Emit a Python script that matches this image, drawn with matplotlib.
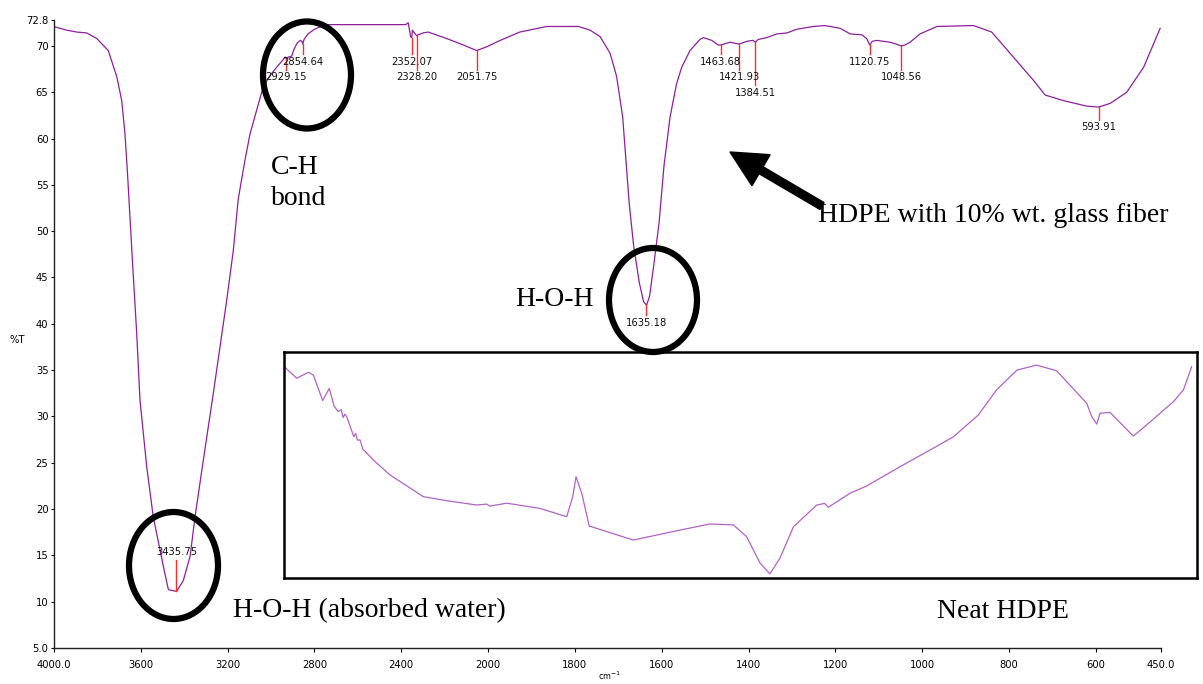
import matplotlib
matplotlib.use('Agg')
import matplotlib.pyplot as plt
from matplotlib.patches import Ellipse, FancyArrow
import numpy as np

# HDPE + 10% glass fiber spectrum (wavenumber, %T)
wavenumber = [3995, 3941, 3895, 3849, 3803, 3750, 3711, 3688, 3673, 3662, 3650, 3637,
              3619, 3604, 3573, 3543, 3496, 3473, 3435, 3404, 3373, 3350, 3312, 3266,
              3204, 3174, 3151, 3120, 3097, 3066, 3036, 3005, 2974, 2945, 2935, 2929,
              2920, 2905, 2895, 2880, 2865, 2858, 2854, 2848, 2830, 2800, 2770, 2740,
              2600, 2380, 2368, 2357, 2352, 2349, 2340, 2329, 2322, 2300, 2276, 2191,
              2114, 2053, 2007, 1972, 1927, 1865, 1792, 1765, 1742, 1719, 1704, 1690,
              1675, 1665, 1652, 1642, 1635, 1628, 1618, 1606, 1595, 1581, 1566, 1554,
              1535, 1512, 1504, 1485, 1470, 1464, 1443, 1422, 1404, 1390, 1384, 1378,
              1358, 1335, 1312, 1289, 1251, 1224, 1189, 1166, 1139, 1128, 1121, 1115,
              1105, 1074, 1060, 1049, 1040, 1028, 1005, 966, 882, 840, 790, 744,
              717, 675, 621, 594, 567, 529, 490, 452]
transmittance = [72.05, 71.7, 71.5, 71.4, 70.8, 69.5, 66.7, 64.1, 60.5, 56.5, 51.5, 46.1,
                 39.0, 31.8, 24.6, 19.2, 13.8, 11.3, 11.1, 12.3, 14.9, 19.2, 25.3, 32.5,
                 42.6, 47.9, 53.5, 57.7, 60.5, 63.1, 65.6, 66.8, 67.7, 68.5, 68.8, 68.6,
                 68.8, 68.9, 69.6, 70.3, 70.6, 70.5, 70.2, 70.7, 71.3, 71.8, 72.1, 72.3,
                 72.3, 72.3, 72.5, 71.0, 70.9, 71.7, 71.4, 71.1, 71.2, 71.4, 71.5, 70.8,
                 70.1, 69.5, 69.9, 70.6, 71.5, 72.1, 72.1, 71.7, 71.0, 69.2, 66.7, 62.3,
                 53.0, 48.5, 44.5, 42.4, 42.0, 43.0, 46.5, 51.0, 57.0, 62.3, 65.9, 67.7,
                 69.5, 70.7, 70.9, 70.6, 70.1, 70.1, 70.4, 70.2, 70.5, 70.6, 70.4, 70.7,
                 70.9, 71.3, 71.4, 71.8, 72.1, 72.2, 71.9, 71.3, 71.2, 70.8, 70.1, 70.5,
                 70.6, 70.4, 70.2, 70.0, 70.1, 70.4, 71.3, 72.1, 72.2, 71.5, 68.8, 66.3,
                 64.7, 64.1, 63.5, 63.4, 63.8, 65.0, 67.7, 71.9]

# Neat HDPE spectrum (inset, relative scale)
neat_wavenumber = [3994, 3929, 3864, 3836, 3784, 3747, 3720, 3697, 3680, 3670, 3660, 3650,
                   3630, 3610, 3600, 3590, 3575, 3560, 3540, 3501, 3408, 3222, 3091, 2924,
                   2868, 2850, 2756, 2570, 2421, 2387, 2369, 2337, 2295, 2049, 1894, 1810,
                   1745, 1708, 1670, 1643, 1615, 1577, 1512, 1490, 1480, 1419, 1373, 1280,
                   1196, 1130, 1061, 1010, 953, 898, 842, 758, 744, 730, 721, 693,
                   628, 591, 516, 488, 465]
neat_signal = [93.2, 88.4, 91.0, 89.8, 78.5, 83.9, 76.0, 73.6, 74.5, 71.0, 72.5, 71.4,
               67.0, 62.5, 64.0, 61.0, 61.1, 57.0, 55.5, 52.2, 45.6, 36.0, 34.2, 32.3,
               32.7, 31.8, 33.1, 30.8, 27.1, 36.0, 44.8, 37.5, 23.0, 16.8, 21.2, 23.9,
               23.5, 18.3, 6.5, 1.8, 8.7, 22.7, 32.3, 33.0, 31.3, 37.5, 40.7, 49.2,
               56.6, 62.5, 72.1, 83.2, 92.0, 94.2, 91.7, 77.3, 71.4, 68.1, 72.9, 73.3,
               62.8, 67.7, 78.0, 83.2, 93.5]

peak_positions = [3435.75, 2929.15, 2854.64, 2352.07, 2328.20, 2051.75, 1635.18,
                  1463.68, 1421.93, 1384.51, 1120.75, 1048.56, 593.91]

x_ticks = [4000, 3600, 3200, 2800, 2400, 2000, 1800, 1600, 1400, 1200, 1000, 800, 600, 450]
x_tick_labels = ['4000.0', '3600', '3200', '2800', '2400', '2000', '1800', '1600',
                 '1400', '1200', '1000', '800', '600', '450.0']
y_ticks = [72.8, 70, 65, 60, 55, 50, 45, 40, 35, 30, 25, 20, 15, 10, 5]
y_tick_labels = ['72.8', '70', '65', '60', '55', '50', '45', '40', '35', '30', '25',
                 '20', '15', '10', '5.0']

# where each peak label sits (in %T)
label_levels = [15.4, 66.6, 68.3, 68.3, 66.6, 66.6, 40.1, 68.3, 66.6, 64.9, 68.3, 66.6, 61.2]

W, H = 1203, 684
narrow = ['DejaVu Sans']
serif = ['Liberation Serif', 'DejaVu Serif']
line_color = '#8e1f9e'
small_font = dict(family=narrow, stretch='condensed', size=8)


# spectrometer style: scale doubles below 2000 cm-1
def fwd(x):
    x = np.asarray(x, dtype=float)
    return np.where(x >= 2000, x, 2 * x - 2000)


def inv(u):
    u = np.asarray(u, dtype=float)
    return np.where(u >= 2000, u, (u + 2000) / 2)


fig = plt.figure(figsize=(W / 100, H / 100), dpi=100)
fig.patch.set_facecolor('white')

ax = fig.add_axes([54 / W, 36 / H, 1107 / W, 628 / H])
ax.set_xscale('function', functions=(fwd, inv))
ax.plot(wavenumber, transmittance, color=line_color, lw=0.9)
ax.set_xlim(4000, 450)
ax.set_ylim(5, 72.8)
ax.set_xticks(x_ticks)
ax.set_xticklabels(x_tick_labels)
ax.set_yticks(y_ticks)
ax.set_yticklabels(y_tick_labels)
ax.xaxis.set_minor_locator(matplotlib.ticker.NullLocator())
ax.tick_params(axis='x', direction='out', length=3, width=0.8, pad=6)
ax.tick_params(axis='y', direction='out', length=2, width=0.8, pad=2)
for lab in ax.get_xticklabels() + ax.get_yticklabels():
    lab.set_fontproperties(matplotlib.font_manager.FontProperties(**small_font))
for s in ['top', 'right']:
    ax.spines[s].set_visible(False)
for s in ['left', 'bottom']:
    ax.spines[s].set_linewidth(1.0)
    ax.spines[s].set_color('#222222')
ax.set_ylabel('%T', rotation=0, **small_font)
ax.yaxis.set_label_coords(-0.033, 0.4825)
ax.set_xlabel('cm$^{-1}$', family=narrow, stretch='condensed', size=6.5)
ax.xaxis.label.set_va('center')
ax.xaxis.set_label_coords(0.502, -0.044)

# peak markers
wn_asc = np.array(wavenumber[::-1])
t_asc = np.array(transmittance[::-1])
for pk, lvl in zip(peak_positions, label_levels):
    t_pk = np.interp(pk, wn_asc, t_asc)
    if lvl > t_pk:
        end = lvl - 0.9
    else:
        end = lvl + 0.85
    ax.plot([pk, pk], [t_pk, end], color='#ff2a2a', lw=1.0)
    ax.text(pk, lvl, f'{pk:.2f}', ha='center', va='center', color='#111111', **small_font)

# inset with the neat HDPE spectrum
ins = fig.add_axes([284 / W, (H - 578) / H, 913 / W, 226 / H], zorder=5)
ins.set_xscale('function', functions=(fwd, inv))
ins.plot(neat_wavenumber, neat_signal, color='#b362c6', lw=0.9)
ins.set_xlim(4000, 450)
ins.set_ylim(0, 100)
ins.set_xticks([])
ins.set_yticks([])
ins.xaxis.set_minor_locator(matplotlib.ticker.NullLocator())
for s in ins.spines.values():
    s.set_linewidth(1.8)
    s.set_color('black')

# overlay in pixel coordinates for the hand drawn annotations
ov = fig.add_axes([0, 0, 1, 1], zorder=10)
ov.set_xlim(0, W)
ov.set_ylim(H, 0)
ov.axis('off')
ov.patch.set_alpha(0)

for cx, cy, ew, eh in [(307, 75, 88, 107), (653, 300, 88, 104), (173.5, 565.5, 89, 107)]:
    ov.add_patch(Ellipse((cx, cy), ew, eh, fill=False, lw=4.5, edgecolor='black'))

ov.add_patch(FancyArrow(822, 206, -92, -54, width=8, head_width=36, head_length=36,
                        length_includes_head=True, color='black'))

ov.text(271, 183, 'C-H\nbond', fontsize=20, family=serif, ha='left', va='center',
        linespacing=1.3)
ov.text(515, 300, 'H-O-H', fontsize=20, family=serif, ha='left', va='center')
ov.text(233, 611, 'H-O-H (absorbed water)', fontsize=20, family=serif, ha='left', va='center')
ov.text(818, 216, 'HDPE with 10% wt. glass fiber', fontsize=20, family=serif,
        ha='left', va='center')
ov.text(937, 611, 'Neat HDPE', fontsize=20, family=serif, ha='left', va='center')

fig.savefig('out.png', dpi=100, facecolor='white')
